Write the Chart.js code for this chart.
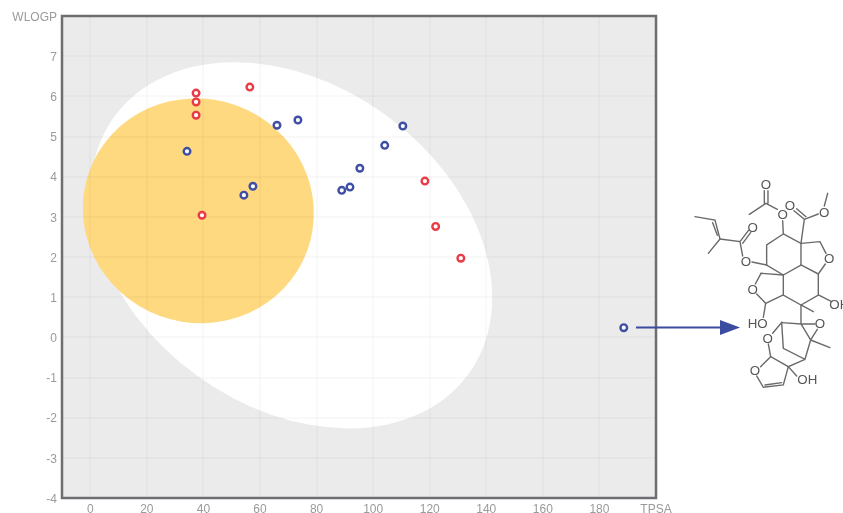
<!DOCTYPE html>
<html>
<head>
<meta charset="utf-8">
<title>BOILED-Egg</title>
<script src="https://cdn.jsdelivr.net/npm/chart.js@4"></script>
<style>
  html, body { margin: 0; padding: 0; background: #fff; }
  #wrap { position: relative; width: 843px; height: 513px; overflow: hidden; filter: blur(0.5px); }
  canvas { position: absolute; left: 0; top: 0; }
  svg { position: absolute; left: 0; top: 0; }
  .bond { stroke: #6a6a6a; stroke-width: 4.2; fill: none; stroke-linecap: round; }
  .atom { fill: #555; font: 40px "Liberation Sans", Arial, sans-serif; text-anchor: middle; dominant-baseline: central; }
</style>
</head>
<body>
<div id="wrap">
  <canvas id="chart" width="843" height="513"></canvas>
  <svg width="843" height="513">
    <line x1="636" y1="327.5" x2="724" y2="327.5" stroke="#3b4ba0" stroke-width="2.2"/>
    <polygon points="720,320 740,327.5 720,335" fill="#3b4ba0"/>
    <g transform="translate(600,170) scale(0.3333)">
      <path class="bond" d="M493,62 L493,100 M504,62 L504,100 M498,100 L448,133 M498,100 L532,118"/>
      <path class="bond" d="M582,122 L613,148 M590,116 L618,140 M613,148 L655,132 M673,108 L683,70 M613,148 L603,220"/>
      <path class="bond" d="M548,152 L550,192 L500,225 L500,285 L550,315 L603,285 L603,220 L550,192"/>
      <path class="bond" d="M603,220 L660,215 L678,250 M676,282 L655,312 L603,285"/>
      <path class="bond" d="M550,315 L550,375 L603,405 L655,375 L655,312 M655,375 L695,395"/>
      <path class="bond" d="M550,315 L483,310 L466,342 M470,372 L497,400 L550,375 M497,400 L490,442"/>
      <path class="bond" d="M500,285 L456,276 M428,258 L420,215 L360,207 M420,215 L445,182 M428,220 L452,188"/>
      <path class="bond" d="M360,207 L345,150 L285,140 M352,196 L338,158 M360,207 L325,250"/>
      <path class="bond" d="M603,405 L640,425 M603,405 L603,462 L545,458 M603,462 L645,462 M603,462 L632,510 L652,478 M632,510 L690,533"/>
      <path class="bond" d="M632,510 L615,568 L550,535 L545,458 L518,490 M615,568 L565,590 L512,560 L505,522"/>
      <path class="bond" d="M512,560 L482,590 M470,618 L490,652 L550,645 L565,590 M495,645 L545,638 M565,590 L590,618"/>
      <text class="atom" x="498" y="45">O</text>
      <text class="atom" x="548" y="135">O</text>
      <text class="atom" x="570" y="108">O</text>
      <text class="atom" x="673" y="127">O</text>
      <text class="atom" x="458" y="172">O</text>
      <text class="atom" x="438" y="275">O</text>
      <text class="atom" x="688" y="266">O</text>
      <text class="atom" x="458" y="358">O</text>
      <text class="atom" x="718" y="405">OH</text>
      <text class="atom" x="473" y="460">HO</text>
      <text class="atom" x="660" y="460">O</text>
      <text class="atom" x="503" y="505">O</text>
      <text class="atom" x="465" y="601">O</text>
      <text class="atom" x="622" y="630">OH</text>
    </g>
  </svg>
</div>
<script>
const xTicks = [0, 20, 40, 60, 80, 100, 120, 140, 160, 180];
const yTicks = [-4, -3, -2, -1, 0, 1, 2, 3, 4, 5, 6, 7];
const xAxisName = "TPSA";
const yAxisName = "WLOGP";

const blueTpsa = [34.2, 66, 73.4, 104.1, 110.5, 95.3, 57.5, 54.3, 88.9, 91.8, 188.6];
const blueWlogp = [4.63, 5.28, 5.41, 4.78, 5.26, 4.21, 3.76, 3.54, 3.66, 3.74, 0.24];
const redTpsa = [37.4, 37.4, 37.4, 56.4, 39.5, 118.3, 122.1, 131];
const redWlogp = [6.08, 5.86, 5.53, 6.23, 3.04, 3.89, 2.76, 1.97];

// regions in data units: centre x, centre y, radius along x scale units, other radius, screen tilt in deg
const whiteRegion = [71.1, 2.29, 77.4, 56.9, 36];
const yolkRegion = [38.2, 3.15, 41, 39.6, 20];

function toPoints(xs, ys) {
  return xs.map((x, i) => ({ x: x, y: ys[i] }));
}

function drawRegion(chart, region, color) {
  const sx = chart.scales.x;
  const sy = chart.scales.y;
  const px = sx.getPixelForValue(region[0]);
  const py = sy.getPixelForValue(region[1]);
  const unit = sx.getPixelForValue(1) - sx.getPixelForValue(0);
  const ctx = chart.ctx;
  ctx.fillStyle = color;
  ctx.beginPath();
  ctx.ellipse(px, py, region[2] * unit, region[3] * unit, region[4] * Math.PI / 180, 0, Math.PI * 2);
  ctx.fill();
}

const eggPlugin = {
  id: "egg",
  beforeDraw(chart) {
    const a = chart.chartArea;
    chart.ctx.save();
    chart.ctx.fillStyle = "#ebebeb";
    chart.ctx.fillRect(a.left, a.top, a.width, a.height);
    drawRegion(chart, whiteRegion, "#ffffff");
    drawRegion(chart, yolkRegion, "#fed97f");
    chart.ctx.restore();
  },
  afterDraw(chart) {
    const a = chart.chartArea;
    chart.ctx.save();
    chart.ctx.strokeStyle = "#6e6e72";
    chart.ctx.lineWidth = 2.5;
    chart.ctx.strokeRect(a.left, a.top, a.width, a.height);
    chart.ctx.restore();
  }
};

new Chart(document.getElementById("chart"), {
  type: "scatter",
  data: {
    datasets: [
      {
        data: toPoints(blueTpsa, blueWlogp),
        backgroundColor: "#ffffff",
        borderColor: "#3f4ea5",
        borderWidth: 2.4,
        pointRadius: 3.3
      },
      {
        data: toPoints(redTpsa, redWlogp),
        backgroundColor: "#ffffff",
        borderColor: "#ea3a46",
        borderWidth: 2.4,
        pointRadius: 3.3
      }
    ]
  },
  options: {
    responsive: false,
    animation: false,
    layout: { padding: { top: 16, right: 187, bottom: 0, left: 0 } },
    plugins: { legend: { display: false }, tooltip: { enabled: false } },
    scales: {
      x: {
        type: "linear",
        min: -10,
        max: 200,
        afterBuildTicks(axis) {
          axis.ticks = xTicks.concat([200]).map(v => ({ value: v }));
        },
        afterFit(axis) { axis.height = 15; },
        grid: { color: "rgba(0,0,0,0.022)", drawTicks: false, lineWidth: 2 },
        border: { display: false },
        ticks: {
          color: "#9a9a9a",
          padding: 4,
          maxRotation: 0,
          autoSkip: false,
          font: { family: "'Liberation Sans', Arial, sans-serif", size: 12 },
          callback: v => (v === 200 ? xAxisName : v)
        }
      },
      y: {
        type: "linear",
        min: -4,
        max: 8,
        afterBuildTicks(axis) {
          axis.ticks = yTicks.concat([8]).map(v => ({ value: v }));
        },
        afterFit(axis) { axis.width = 62; },
        grid: { color: "rgba(0,0,0,0.022)", drawTicks: false, lineWidth: 2 },
        border: { display: false },
        ticks: {
          color: "#9a9a9a",
          padding: 5,
          labelOffset: 1.5,
          autoSkip: false,
          font: { family: "'Liberation Sans', Arial, sans-serif", size: 12 },
          callback: v => (v === 8 ? yAxisName : v)
        }
      }
    }
  },
  plugins: [eggPlugin]
});
</script>
</body>
</html>
